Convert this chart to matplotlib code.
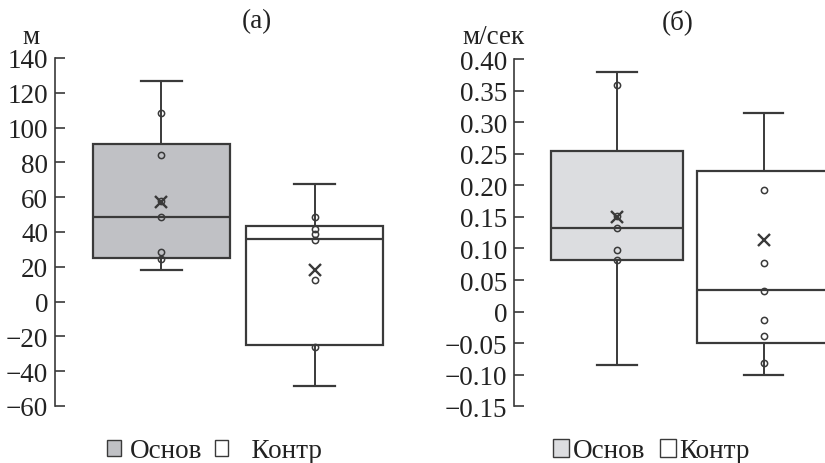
import matplotlib

matplotlib.use("Agg")
import matplotlib.pyplot as plt
from matplotlib.patches import Patch
from matplotlib.ticker import FuncFormatter

plt.rcParams["font.family"] = ["Liberation Serif", "DejaVu Serif"]

# ==================== data ====================
GROUPS = ["Основ", "Контр"]

# panel (а), metres
A_LOW = [18.3, -48.3]
A_Q1 = [24.9, -24.8]
A_MED = [48.8, 36.0]
A_Q3 = [90.6, 43.3]
A_HIGH = [127.0, 67.5]
A_MEAN = [57.5, 18.3]
A_POINTS_OSNOV = [108.5, 84.5, 58.0, 48.5, 28.5, 24.5]
A_POINTS_KONTR = [48.5, 41.8, 38.6, 35.6, 12.4, -25.9]

# panel (б), m/s
B_LOW = [-0.084, -0.100]
B_Q1 = [0.082, -0.049]
B_MED = [0.133, 0.034]
B_Q3 = [0.255, 0.223]
B_HIGH = [0.379, 0.314]
B_MEAN = [0.149, 0.114]
B_POINTS_OSNOV = [0.359, 0.152, 0.133, 0.097, 0.082]
B_POINTS_KONTR = [0.193, 0.077, 0.032, -0.013, -0.039, -0.082]

A_TICKS = [140, 120, 100, 80, 60, 40, 20, 0, -20, -40, -60]
B_TICKS = [0.40, 0.35, 0.30, 0.25, 0.20, 0.15, 0.10, 0.05, 0.0, -0.05, -0.10, -0.15]
# ==============================================

LINE = "#3a3a3a"
TEXT = "#222222"
FONT = 19.5
W, H = 825, 464


def make_stats(low, q1, med, q3, high, mean):
    stats = []
    for i in range(len(low)):
        stats.append(
            {
                "whislo": low[i],
                "q1": q1[i],
                "med": med[i],
                "q3": q3[i],
                "whishi": high[i],
                "mean": mean[i],
                "fliers": [],
            }
        )
    return stats


def draw_panel(ax, stats, points, fills, width):
    bp = ax.bxp(
        stats,
        positions=[1, 2],
        widths=width,
        capwidths=0.27,
        patch_artist=True,
        showmeans=False,
        showfliers=False,
        boxprops=dict(edgecolor=LINE, linewidth=1.6),
        medianprops=dict(color=LINE, linewidth=1.6),
        whiskerprops=dict(color=LINE, linewidth=1.4),
        capprops=dict(color=LINE, linewidth=1.6),
    )
    for patch, fc in zip(bp["boxes"], fills):
        patch.set_facecolor(fc)
    for pos, vals in zip([1, 2], points):
        ax.plot([pos] * len(vals), vals, "o", ms=4.5, mfc="none", mec=LINE, mew=1.1, zorder=4)
    for pos, st in zip([1, 2], stats):
        ax.plot([pos], [st["mean"]], "x", ms=8.5, mec=LINE, mew=1.7, zorder=5)

    for side in ("top", "right", "bottom"):
        ax.spines[side].set_visible(False)
    ax.spines["left"].set_color(LINE)
    ax.spines["left"].set_linewidth(1.2)
    ax.tick_params(axis="y", direction="in", length=7, width=1.2, color=LINE,
                   labelsize=FONT, pad=5, labelcolor=TEXT)
    ax.set_xticks([])


def fmt_a(v, pos):
    return f"{v:.0f}".replace("-", "\u2212")


def fmt_b(v, pos):
    if abs(v) < 1e-9:
        return "0"
    return f"{v:.2f}".replace("-", "\u2212")


def main():
    fig = plt.figure(figsize=(W / 100, H / 100), dpi=100)

    # panel (а)
    ax_a = fig.add_axes([55 / W, (H - 407) / H, (395 - 55) / W, 348 / H])
    draw_panel(
        ax_a,
        make_stats(A_LOW, A_Q1, A_MED, A_Q3, A_HIGH, A_MEAN),
        [A_POINTS_OSNOV, A_POINTS_KONTR],
        ["#c0c1c5", "#ffffff"],
        0.9,
    )
    ax_a.set_xlim(0.304, 2.526)
    ax_a.set_ylim(-60, 140)
    ax_a.set_yticks(A_TICKS)
    ax_a.yaxis.set_major_formatter(FuncFormatter(fmt_a))

    # panel (б)
    ax_b = fig.add_axes([514.3 / W, (H - 407.3) / H, (W - 514.3) / W, 347.3 / H])
    draw_panel(
        ax_b,
        make_stats(B_LOW, B_Q1, B_MED, B_Q3, B_HIGH, B_MEAN),
        [B_POINTS_OSNOV, B_POINTS_KONTR],
        ["#dcdde0", "#ffffff"],
        0.907,
    )
    ax_b.set_xlim(0.298, 2.42)
    ax_b.set_ylim(-0.15, 0.40)
    ax_b.set_yticks(B_TICKS)
    ax_b.yaxis.set_major_formatter(FuncFormatter(fmt_b))

    # titles and units
    fig.text(257 / W, 1 - 22 / H, "(а)", ha="center", va="center", fontsize=FONT, color=TEXT)
    fig.text(678 / W, 1 - 22 / H, "(б)", ha="center", va="center", fontsize=FONT, color=TEXT)
    fig.text(31 / W, 1 - 37 / H, "м", ha="center", va="center", fontsize=FONT, color=TEXT)
    fig.text(494 / W, 1 - 37 / H, "м/сек", ha="center", va="center", fontsize=FONT, color=TEXT)

    # legends
    ha = [
        Patch(facecolor="#c0c1c5", edgecolor=LINE, linewidth=1.0, label=GROUPS[0]),
        Patch(facecolor="#ffffff", edgecolor=LINE, linewidth=1.0, label="  " + GROUPS[1]),
    ]
    fig.legend(handles=ha, loc="center left", bbox_to_anchor=(107 / W, 1 - 452 / H),
               ncol=2, frameon=False, fontsize=FONT, handlelength=0.5, handleheight=0.5,
               handletextpad=0.35, columnspacing=0.45, borderpad=0, borderaxespad=0,
               labelcolor=TEXT)
    hb = [
        Patch(facecolor="#dcdde0", edgecolor=LINE, linewidth=1.0, label=GROUPS[0]),
        Patch(facecolor="#ffffff", edgecolor=LINE, linewidth=1.0, label=GROUPS[1]),
    ]
    fig.legend(handles=hb, loc="center left", bbox_to_anchor=(553 / W, 1 - 452 / H),
               ncol=2, frameon=False, fontsize=FONT, handlelength=0.6, handleheight=0.6,
               handletextpad=0.12, columnspacing=0.55, borderpad=0, borderaxespad=0,
               labelcolor=TEXT)

    fig.savefig("out.png", dpi=100)
    plt.close(fig)


if __name__ == "__main__":
    main()
